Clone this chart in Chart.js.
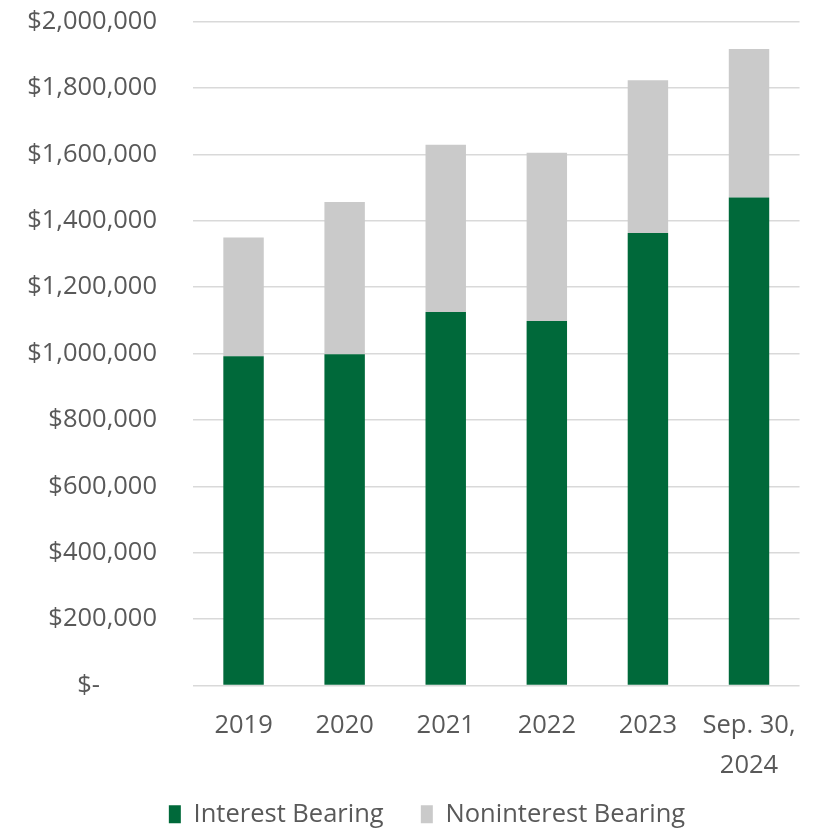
<!DOCTYPE html>
<html>
<head>
<meta charset="utf-8">
<script src="https://cdn.jsdelivr.net/npm/chart.js@4.4.1/dist/chart.umd.min.js"></script>
<style>
  html, body { margin: 0; padding: 0; background: #fff; }
  #wrap { width: 818px; height: 829px; position: relative; }
</style>
</head>
<body>
<div id="wrap"><canvas id="depositChart"></canvas></div>
<script>
// Deposits by year, in dollars
const periods = ['2019', '2020', '2021', '2022', '2023', ['Sep. 30,', '2024']];
const interestBearing = [992000, 998000, 1125000, 1098000, 1363000, 1470000];
const nonInterestBearing = [357000, 458000, 504000, 507000, 460000, 447000];
const yTicks = [0, 200000, 400000, 600000, 800000, 1000000, 1200000, 1400000, 1600000, 1800000, 2000000];

const textColor = '#595959';
const font = { family: "'Open Sans', sans-serif", size: 25.5 };

// "$-" for zero, padded so the dash sits left like an accounting format
function money(v) {
  if (v === 0) return '$-' + '\u2007'.repeat(3) + '  ';
  return '$' + v.toLocaleString('en-US');
}

// move the legend row a little to the right of the page centre
const legendShift = {
  id: 'legendShift',
  afterLayout(chart) {
    chart.legend.left += 27;
    chart.legend.right += 27;
  },
};

const ctx = document.getElementById('depositChart').getContext('2d');
const depositChart = new Chart(ctx, {
  type: 'bar',
  data: {
    labels: periods,
    datasets: [{
      label: 'Interest Bearing',
      data: interestBearing,
      backgroundColor: '#00693a',
      categoryPercentage: 0.8,
      barPercentage: 0.5,
    }, {
      label: 'Noninterest Bearing',
      data: nonInterestBearing,
      backgroundColor: '#cacaca',
      categoryPercentage: 0.8,
      barPercentage: 0.5,
    }],
  },
  plugins: [legendShift],
  options: {
    responsive: true,
    maintainAspectRatio: false,
    animation: false,
    layout: { padding: { left: 0, right: 18, top: 21.5, bottom: -8 } },
    plugins: {
      tooltip: { enabled: false },
      legend: {
        position: 'bottom',
        labels: {
          color: textColor,
          font: font,
          boxWidth: 12,
          boxHeight: 18,
          padding: 8,
          // wider gap between the two entries
          generateLabels: (chart) => {
            const items = Chart.defaults.plugins.legend.labels.generateLabels(chart);
            items[0].text += '\u2007\u2007';
            return items;
          },
        },
      },
    },
    scales: {
      x: {
        stacked: true,
        grid: { display: false, drawTicks: false },
        border: { display: false },
        ticks: { color: textColor, font: { ...font, lineHeight: 1.55 }, padding: 21, maxRotation: 0 },
        afterFit: (axis) => { axis.height -= 13; },
      },
      y: {
        stacked: true,
        min: 0,
        max: 2000000,
        afterBuildTicks: (axis) => { axis.ticks = yTicks.map(v => ({ value: v })); },
        afterFit: (axis) => {
          axis.width = 193;
          axis.paddingTop = 0;
          axis.paddingBottom = 0;
        },
        grid: { color: '#d9d9d9', lineWidth: 1.5, drawTicks: false },
        border: { display: false },
        ticks: { color: textColor, font: font, padding: 36, callback: money },
      },
    },
  },
});
</script>
</body>
</html>
